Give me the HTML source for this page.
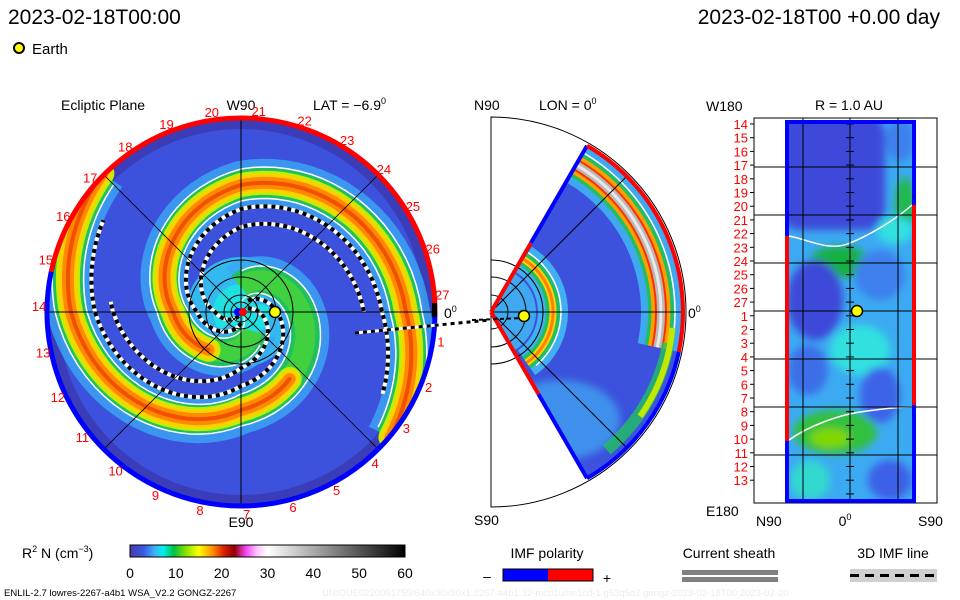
<!DOCTYPE html>
<html><head><meta charset="utf-8">
<style>
html,body{margin:0;padding:0;background:#fff;}
svg{display:block;font-family:"Liberation Sans",sans-serif;}
</style></head>
<body>
<svg id="chart" width="960" height="600" viewBox="0 0 960 600" xmlns="http://www.w3.org/2000/svg">
<defs>
  <clipPath id="diskClip"><circle cx="241" cy="312" r="194"/></clipPath>
  <clipPath id="wedgeClip"><path id="wedgePath" d=""/></clipPath>
  <clipPath id="rightClip"><rect x="787" y="122" width="127" height="379"/></clipPath>
  <filter id="blur4"><feGaussianBlur stdDeviation="4"/></filter>
  <linearGradient id="cbar" x1="0" x2="1" y1="0" y2="0">
    <stop offset="0" stop-color="#4a3aa8"/>
    <stop offset="0.05" stop-color="#3a5ae8"/>
    <stop offset="0.09" stop-color="#40b0f8"/>
    <stop offset="0.12" stop-color="#00f0f0"/>
    <stop offset="0.16" stop-color="#00c040"/>
    <stop offset="0.2" stop-color="#80e000"/>
    <stop offset="0.25" stop-color="#ffff00"/>
    <stop offset="0.3" stop-color="#ff9000"/>
    <stop offset="0.34" stop-color="#e02000"/>
    <stop offset="0.38" stop-color="#900000"/>
    <stop offset="0.42" stop-color="#f040f0"/>
    <stop offset="0.46" stop-color="#ffc0ff"/>
    <stop offset="0.5" stop-color="#ffffff"/>
    <stop offset="1" stop-color="#000000"/>
  </linearGradient>
</defs>

<text x="8" y="24" font-size="21">2023-02-18T00:00</text>
<text x="940" y="24" font-size="21" text-anchor="end">2023-02-18T00 +0.00 day</text>
<circle cx="19" cy="48" r="5" fill="#ffff00" stroke="#000" stroke-width="2"/>
<text x="32" y="54" font-size="15">Earth</text>

<g>
  <text x="61" y="110" font-size="14">Ecliptic Plane</text>
  <text x="241" y="110" font-size="14" text-anchor="middle">W90</text>
  <text x="313" y="110" font-size="14">LAT = −6.9<tspan font-size="9" dy="-6">0</tspan></text>
  <text x="241" y="527" font-size="14" text-anchor="middle">E90</text>
  <text x="444" y="318" font-size="14">0<tspan font-size="9" dy="-6">0</tspan></text>
  <g id="diskG" clip-path="url(#diskClip)"></g>
  <g id="diskOverlay"></g>
  <g id="diskLabels"></g>
</g>

<g>
  <text x="474" y="110" font-size="14">N90</text>
  <text x="539" y="110" font-size="14">LON = 0<tspan font-size="9" dy="-6">0</tspan></text>
  <text x="474" y="525" font-size="14">S90</text>
  <text x="688" y="318" font-size="14">0<tspan font-size="9" dy="-6">0</tspan></text>
  <g id="wedgeG"></g>
</g>

<g>
  <text x="849" y="110" font-size="14" text-anchor="middle">R = 1.0 AU</text>
  <text x="706" y="111" font-size="14">W180</text>
  <text x="706" y="516" font-size="14">E180</text>
  <text x="756" y="526" font-size="14">N90</text>
  <text x="845" y="526" font-size="14" text-anchor="middle">0<tspan font-size="9" dy="-6">0</tspan></text>
  <text x="918" y="526" font-size="14">S90</text>
  <g id="rightG"></g>
</g>

<g>
  <text x="22" y="558" font-size="14">R<tspan font-size="9" dy="-6">2</tspan><tspan dy="6"> N (cm</tspan><tspan font-size="9" dy="-6">−3</tspan><tspan dy="6">)</tspan></text>
  <rect x="130" y="545" width="275" height="12" fill="url(#cbar)" stroke="#000" stroke-width="1"/>
  <g id="cbTicks"></g>
</g>

<g>
  <text x="547" y="558" font-size="14" text-anchor="middle">IMF polarity</text>
  <text x="487" y="581" font-size="14" text-anchor="middle">–</text>
  <rect x="503" y="569" width="45" height="12" fill="#0000ff"/>
  <rect x="548" y="569" width="45" height="12" fill="#ff0000"/>
  <rect x="503" y="569" width="90" height="12" fill="none" stroke="#000" stroke-width="1"/>
  <text x="607" y="583" font-size="14" text-anchor="middle">+</text>
</g>
<g>
  <text x="729" y="558" font-size="14" text-anchor="middle">Current sheath</text>
  <rect x="682" y="570" width="96" height="5" fill="#808080"/>
  <rect x="682" y="577" width="96" height="5" fill="#808080"/>
</g>
<g>
  <text x="893" y="558" font-size="14" text-anchor="middle">3D IMF line</text>
  <rect x="850" y="569" width="87" height="13" fill="#d0d0d0"/>
  <line x1="850" y1="575.5" x2="937" y2="575.5" stroke="#000" stroke-width="3" stroke-dasharray="9 6"/>
</g>
<text x="4" y="596" font-size="9.5">ENLIL-2.7 lowres-2267-a4b1 WSA_V2.2 GONGZ-2267</text>
<text x="322" y="596" font-size="9.5" fill="#ececec">UNIQUE0220091759/640x30x90x1.2267-a4b1.32-mcp1umn1cd-1.g53q5d2.gongz-2023-02-18T00   2023-02-20</text>
</svg>

<script>
var NS='http://www.w3.org/2000/svg';
// ---- data arrays ----
var cbTickLabels=[0,10,20,30,40,50,60];
var diskDayLabels=[1,2,3,4,5,6,7,8,9,10,11,12,13,14,15,16,17,18,19,20,21,22,23,24,25,26,27];
var rightDayLabels=[14,15,16,17,18,19,20,21,22,23,24,25,26,27,1,2,3,4,5,6,7,8,9,10,11,12,13];
// spiral arm ridge positions (angle deg, radius px)
var armAAngles=[300,270,180,90,0,-40];
var armARadii=[22,35,68,127,165,195];
var armBAngles=[450,360,270,180,135];
var armBRadii=[25,60,98,170,196];
var armDenseStart=[70,140];   // degrees trimmed from inner end before dense (orange) core appears
var earthRadiusAU=[1.0];
function el(tag,attrs,parent){var e=document.createElementNS(NS,tag);for(var k in attrs)e.setAttribute(k,attrs[k]);parent.appendChild(e);return e;}

var CX=241,CY=312,R=194;
function pt(cx,cy,r,ang){var t=ang*Math.PI/180;return [cx+r*Math.cos(t),cy-r*Math.sin(t)];}
function arc(cx,cy,r,a0,a1,sweep){var p=pt(cx,cy,r,a0),q=pt(cx,cy,r,a1);var large=Math.abs(a1-a0)>180?1:0;return 'M'+p[0]+' '+p[1]+'A'+r+' '+r+' 0 '+large+' '+(sweep||0)+' '+q[0]+' '+q[1];}

var cb=document.getElementById('cbTicks');
cbTickLabels.forEach(function(v){
  var x=130+v/60*275;
  var t=el('text',{x:x,y:578,'font-size':14,'text-anchor':'middle'},cb);
  
  
  t.textContent=v;
});

// ---- disk ----
var dg=document.getElementById('diskG');
var bg=el('circle',{cx:CX,cy:CY,r:R,fill:'#3c52dc'},dg);


el('circle',{cx:CX,cy:CY,r:R,fill:'none',stroke:'#3a3cb8','stroke-width':22},dg);
el('circle',{cx:CX,cy:CY,r:55,fill:'#34b8f0'},dg);
el('circle',{cx:CX,cy:CY,r:28,fill:'#20e0e0'},dg);
function armPath(angles,radii,offset,trimStart,trimEnd){
  var d='';
  for(var i=0;i<angles.length-1;i++){
    var a0=angles[i],a1=angles[i+1],r0=radii[i],r1=radii[i+1];
    for(var s=0;s<=20;s++){
      var f=s/20, ang=a0+(a1-a0)*f, r=r0+(r1-r0)*f+offset;
      if(ang>angles[0]-trimStart||ang<angles[angles.length-1]+trimEnd||r<3)continue;
      var p=pt(CX,CY,r,ang);d+=(d?'L':'M')+p[0].toFixed(1)+' '+p[1].toFixed(1);
    }
  }
  return d;
}
var haloLayers=[[48,'#3aa8f2',0.8],[30,'#20c060',1],[20,'#40d040',1]];
var coreLayers=[[24,'#c8ec00',1],[18,'#ffd000',1],[12,'#ff8a00',1],[4,'#f05000',1]];
[[armAAngles,armARadii],[armBAngles,armBRadii]].forEach(function(arm,i){
  haloLayers.forEach(function(L,j){
    var p=el('path',{d:armPath(arm[0],arm[1],0,0,0),fill:'none',stroke:L[1],'stroke-width':L[0],'stroke-opacity':L[2],'stroke-linejoin':'round'},dg);
    if(j==0){}
  });
  coreLayers.forEach(function(L){
    el('path',{d:armPath(arm[0],arm[1],0,armDenseStart[i],0),fill:'none',stroke:L[1],'stroke-width':L[0],'stroke-linecap':'round','stroke-linejoin':'round'},dg);
  });
  el('path',{d:armPath(arm[0],arm[1],-16,0,0),fill:'none',stroke:'#fff','stroke-width':1.5},dg);
  el('path',{d:armPath(arm[0],arm[1],16,0,0),fill:'none',stroke:'#fff','stroke-width':1.5},dg);
  [[-24,30,10],[-42,60,40]].forEach(function(o,k){
    var d=armPath(arm[0],arm[1],o[0],o[1],o[2]);
    el('path',{d:d,fill:'none',stroke:'#fff','stroke-width':4},dg);
    var dl=el('path',{d:d,fill:'none',stroke:'#000','stroke-width':4,'stroke-dasharray':'4 4'},dg);
    
    
  });
});
var ov=document.getElementById('diskOverlay');
[0,45,90,135].forEach(function(ang){var p=pt(CX,CY,R,ang),q=pt(CX,CY,R,ang+180);el('line',{x1:p[0],y1:p[1],x2:q[0],y2:q[1],stroke:'#000','stroke-width':ang%90?0.8:1},ov);});
[10,17,35,52].forEach(function(r){el('circle',{cx:CX,cy:CY,r:r,fill:'none',stroke:'#000','stroke-width':1},ov);});
var rr=el('path',{d:arc(CX,CY,R,0,168),fill:'none',stroke:'#ff0000','stroke-width':5},ov);

var rb=el('path',{d:arc(CX,CY,R,168,360),fill:'none',stroke:'#0000ff','stroke-width':5},ov);

el('rect',{x:432,y:303,width:5,height:14,fill:'#000'},ov);
el('line',{x1:355,y1:333,x2:490,y2:320,stroke:'#fff','stroke-width':3},ov);
el('line',{x1:355,y1:333,x2:490,y2:320,stroke:'#000','stroke-width':3,'stroke-dasharray':'4 4'},ov);
el('circle',{cx:CX-3,cy:CY,r:4,fill:'#0000ff'},ov);
el('circle',{cx:CX+2,cy:CY,r:4,fill:'#ff0000'},ov);
var e1=el('circle',{cx:CX+34*earthRadiusAU[0],cy:CY,r:5.5,fill:'#ffff00',stroke:'#000','stroke-width':1.5},ov);

var lg=document.getElementById('diskLabels');
diskDayLabels.forEach(function(n){
  var ang=5+(27-n)*13.33;var p=pt(CX,CY,R+8,ang);
  var t=el('text',{x:p[0],y:p[1]+5,'font-size':13,fill:'#ff0000','text-anchor':'middle'},lg);
  
  t.textContent=n;
});

// ---- wedge ----
var WX=491,WY=312,WR=192;
var wg=document.getElementById('wedgeG');
el('path',{d:'M'+WX+' '+(WY-195)+'A195 195 0 0 1 '+WX+' '+(WY+195)+'Z',fill:'none',stroke:'#000','stroke-width':1},wg);
var wA=pt(WX,WY,WR,60),wB=pt(WX,WY,WR,-60);
var wd='M'+WX+' '+WY+'L'+wA[0]+' '+wA[1]+'A'+WR+' '+WR+' 0 0 1 '+wB[0]+' '+wB[1]+'Z';
document.getElementById('wedgePath').setAttribute('d',wd);
var wgc=el('g',{'clip-path':'url(#wedgeClip)'},wg);
var wbg=el('path',{d:wd,fill:'#3c52dc'},wgc);

el('circle',{cx:WX,cy:WY,r:45,fill:'#40a8f0'},wgc);
el('ellipse',{cx:560,cy:420,rx:60,ry:40,fill:'#40a0f0',opacity:0.8,filter:'url(#blur4)'},wgc);
[[30,'#40b0f0'],[14,'#20c060'],[7,'#ffd000'],[3,'#ff8000']].forEach(function(L){
  el('path',{d:arc(WX,WY,62,-55,58),fill:'none',stroke:L[1],'stroke-width':L[0]},wgc);
});
el('path',{d:arc(WX,WY,70,-50,58),fill:'none',stroke:'#fff','stroke-width':1.5},wgc);
[[40,'#40a8f0'],[26,'#20c060'],[19,'#ffa000'],[12,'#ff3000'],[8,'#b8b8b8'],[3,'#e8e8e8']].forEach(function(L){
  el('path',{d:arc(WX,WY,170,-12,60),fill:'none',stroke:L[1],'stroke-width':L[0]},wgc);
});
el('path',{d:arc(WX,WY,184,-20,60),fill:'none',stroke:'#fff','stroke-width':1.5},wgc);
el('path',{d:arc(WX,WY,180,-50,-10),fill:'none',stroke:'#20c060','stroke-width':12,opacity:0.8},wgc);
el('path',{d:arc(WX,WY,182,-35,-5),fill:'none',stroke:'#c0e800','stroke-width':6},wgc);
el('line',{x1:WX,y1:WY,x2:WX+WR,y2:WY,stroke:'#000','stroke-width':1},wg);
[45,-45].forEach(function(ang){var p=pt(WX,WY,WR,ang);el('line',{x1:WX,y1:WY,x2:p[0],y2:p[1],stroke:'#000','stroke-width':1},wg);});
[17,35,52].forEach(function(r){el('path',{d:arc(WX,WY,r,90,-90,1),fill:'none',stroke:'#000','stroke-width':1},wg);});
function seg(x1,y1,x2,y2,c){el('line',{x1:x1,y1:y1,x2:x2,y2:y2,stroke:c,'stroke-width':4},wg);}
var m1=pt(WX,WY,80,60),m2=pt(WX,WY,95,-60);
seg(WX,WY,m1[0],m1[1],'#ff0000');seg(m1[0],m1[1],wA[0],wA[1],'#0000ff');
seg(WX,WY,m2[0],m2[1],'#ff0000');seg(m2[0],m2[1],wB[0],wB[1],'#0000ff');
el('path',{d:arc(WX,WY,WR,60,-12,1),fill:'none',stroke:'#ff0000','stroke-width':4},wg);
el('path',{d:arc(WX,WY,WR,-12,-60,1),fill:'none',stroke:'#0000ff','stroke-width':4},wg);
el('line',{x1:472,y1:320,x2:525,y2:318,stroke:'#000','stroke-width':2,'stroke-dasharray':'4 3'},wg);
var e2=el('circle',{cx:WX+33*earthRadiusAU[0],cy:316,r:5.5,fill:'#ffff00',stroke:'#000','stroke-width':1.5},wg);


// ---- right panel ----
var rg=document.getElementById('rightG');
el('rect',{x:754,y:118,width:183,height:385,fill:'#fff',stroke:'#000','stroke-width':1},rg);
var rc=el('rect',{x:787,y:122,width:127,height:379,fill:'#3caaf2'},rg);

var rcg=el('g',{'clip-path':'url(#rightClip)'},rg);
var rcb=el('g',{filter:'url(#blur4)'},rcg);
el('rect',{x:780,y:115,width:105,height:115,rx:20,fill:'#3c4ad8'},rcb);
el('ellipse',{cx:900,cy:140,rx:14,ry:22,fill:'#3c80ee'},rcb);
el('ellipse',{cx:905,cy:205,rx:10,ry:28,fill:'#20b850'},rcb);
el('ellipse',{cx:895,cy:230,rx:18,ry:14,fill:'#30e0e0'},rcb);
el('ellipse',{cx:840,cy:262,rx:30,ry:16,fill:'#18b040'},rcb);
el('ellipse',{cx:815,cy:300,rx:28,ry:40,fill:'#3c48d8'},rcb);
el('ellipse',{cx:880,cy:275,rx:25,ry:25,fill:'#3c80ee'},rcb);
el('ellipse',{cx:860,cy:350,rx:30,ry:25,fill:'#30e0e0'},rcb);
el('ellipse',{cx:808,cy:370,rx:20,ry:25,fill:'#3c6ee8'},rcb);
el('ellipse',{cx:880,cy:395,rx:20,ry:28,fill:'#3c64e8'},rcb);
el('ellipse',{cx:835,cy:432,rx:42,ry:22,fill:'#30c040'},rcb);
el('ellipse',{cx:830,cy:438,rx:20,ry:10,fill:'#80d800'},rcb);
el('ellipse',{cx:890,cy:480,rx:22,ry:20,fill:'#3c60e8'},rcb);
el('ellipse',{cx:810,cy:480,rx:20,ry:20,fill:'#30d8d0'},rcb);
el('path',{d:'M789 236 C810 240 830 252 850 243 C870 235 895 220 912 205',fill:'none',stroke:'#fff','stroke-width':1.5},rg);
el('path',{d:'M789 440 C810 425 840 415 860 412 C880 409 900 407 912 407',fill:'none',stroke:'#fff','stroke-width':1.5},rg);
[167,215,263,311,359,407,455].forEach(function(yy){el('line',{x1:754,y1:yy,x2:937,y2:yy,stroke:'#000','stroke-width':1},rg);});
[803,850,898].forEach(function(xx){el('line',{x1:xx,y1:118,x2:xx,y2:503,stroke:'#000','stroke-width':1},rg);});
for(var ty=124;ty<500;ty+=13.7){el('line',{x1:846,y1:ty,x2:854,y2:ty,stroke:'#000','stroke-width':1},rg);}
function vs(x,y1,y2,c){el('line',{x1:x,y1:y1,x2:x,y2:y2,stroke:c,'stroke-width':4},rg);}
vs(787,121,236,'#0000ff');vs(787,236,441,'#ff0000');vs(787,441,502,'#0000ff');
vs(914,121,205,'#0000ff');vs(914,205,405,'#ff0000');vs(914,405,502,'#0000ff');
el('line',{x1:785,y1:122,x2:916,y2:122,stroke:'#0000ff','stroke-width':4},rg);
el('line',{x1:785,y1:501,x2:916,y2:501,stroke:'#0000ff','stroke-width':4},rg);
rightDayLabels.forEach(function(n,i){
  var yy=124+i*13.7;
  el('line',{x1:750,y1:yy,x2:754,y2:yy,stroke:'#000','stroke-width':1},rg);
  var t=el('text',{x:748,y:yy+5,'font-size':13,fill:'#ff0000','text-anchor':'end'},rg);
  
  t.textContent=n;
});
var e3=el('circle',{cx:857,cy:311,r:5.5,fill:'#ffff00',stroke:'#000','stroke-width':1.5},rg);

</script>
</body></html>
